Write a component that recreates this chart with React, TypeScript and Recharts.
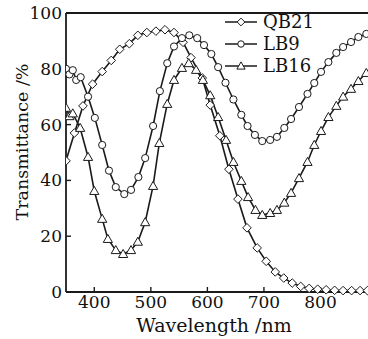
import { LineChart, Line, XAxis, YAxis, ReferenceLine } from "recharts";

// wavelength (nm) / transmittance (%)
const qb21Wl = [350, 365, 380, 397, 414, 430, 445, 462, 477, 493, 509, 525, 541, 557, 571, 591, 605, 622, 638, 654, 670, 688, 704, 720, 735, 750, 765, 780, 795, 810, 825, 840, 855, 870, 883];
const qb21T = [47, 57, 66.7, 74.5, 79, 83, 87, 89, 92, 93, 93.5, 94, 93, 89.5, 84, 76.7, 67, 56, 44, 33.3, 23, 15.8, 11, 7.2, 5, 3.2, 2, 1.3, 1, 0.8, 0.6, 0.5, 0.5, 0.5, 0.5];

const lb9Wl = [350, 356, 362, 368, 376, 389, 401, 414, 426, 438, 453, 465, 478, 490, 504, 516, 529, 541, 555, 568, 582, 594, 607, 619, 632, 646, 660, 671, 684, 697, 711, 723, 736, 748, 762, 777, 789, 801, 814, 828, 840, 854, 867, 881];
const lb9T = [80, 78, 79.5, 76, 77, 70, 62.4, 52.7, 43.5, 37.6, 35.1, 36.6, 41.2, 48, 59.5, 72, 82, 88, 91, 92, 91, 88.5, 85.3, 80.6, 75, 69, 63.5, 59.5, 56.3, 54.1, 54.5, 55.6, 58.8, 62, 66.3, 71, 74.9, 78.9, 82.4, 85.7, 87.8, 89.6, 91.4, 92.5];

const lb16Wl = [350, 356, 362, 375, 389, 400, 414, 424, 438, 451, 465, 477, 490, 504, 515, 529, 541, 555, 567, 580, 592, 605, 619, 633, 646, 660, 672, 685, 697, 711, 723, 736, 748, 762, 777, 789, 801, 814, 828, 840, 854, 867, 881];
const lb16T = [66, 63, 64, 58.8, 48.4, 36.2, 26.2, 19, 15, 13.6, 15, 18, 25, 38, 53.4, 67.4, 76, 80.3, 82, 79.6, 76, 70.5, 62.7, 54.5, 46.6, 39.8, 34, 29.4, 27.6, 28.3, 29.4, 32, 35.5, 40.8, 46.6, 52.7, 57.7, 62.7, 66.7, 70, 72.8, 75.6, 78.5];

const xTicks = [400, 500, 600, 700, 800];
const yTicks = [0, 20, 40, 60, 80, 100];

const series = [
  { name: "QB21", wl: qb21Wl, t: qb21T, shape: "diamond" },
  { name: "LB9", wl: lb9Wl, t: lb9T, shape: "circle" },
  { name: "LB16", wl: lb16Wl, t: lb16T, shape: "triangle" },
];

const INK = "#1a1a1a";
const FONT = "'DejaVu Serif', serif";

function Marker({ cx, cy, shape, s = 1 }: { cx?: number; cy?: number; shape: string; s?: number }) {
  if (cx == null || cy == null) return null;
  const common = { fill: "#fff", stroke: INK, strokeWidth: 1 };
  if (shape === "circle") return <circle cx={cx} cy={cy} r={3.6 * s} {...common} />;
  if (shape === "diamond") {
    const d = 4.3 * s;
    return <polygon points={`${cx},${cy - d} ${cx + d},${cy} ${cx},${cy + d} ${cx - d},${cy}`} {...common} />;
  }
  const d = 4.6 * s;
  return <polygon points={`${cx},${cy - d} ${cx + d},${cy + 0.75 * d} ${cx - d},${cy + 0.75 * d}`} {...common} />;
}

function LegendBox() {
  return (
    <div style={{ position: "absolute", left: 225, top: 11 }}>
      {series.map((s) => (
        <div key={s.name} style={{ display: "flex", alignItems: "center", height: 22 }}>
          <svg width={32} height={14}>
            <line x1={0} y1={7} x2={32} y2={7} stroke={INK} strokeWidth={1.5} />
            <Marker cx={16} cy={7} shape={s.shape} s={0.9} />
          </svg>
          <span style={{ fontFamily: FONT, fontSize: 18, color: "#111", marginLeft: 6, lineHeight: "22px" }}>{s.name}</span>
        </div>
      ))}
    </div>
  );
}

export default function App() {
  const tickStyle = { fontSize: 17, fontFamily: FONT, fill: "#111" };
  return (
    <div style={{ position: "absolute", left: 0, top: 0, width: 368, height: 339 }}>
      <LineChart width={368} height={339} margin={{ top: 13, right: 0, left: 8, bottom: 0 }}>
        <XAxis
          dataKey="x"
          type="number"
          domain={[350, 884]}
          ticks={xTicks}
          allowDataOverflow
          height={47}
          tick={tickStyle}
          tickSize={-5}
          tickMargin={9}
          tickLine={{ stroke: INK, strokeWidth: 1.4 }}
          axisLine={{ stroke: INK, strokeWidth: 1.8 }}
          label={{
            content: () => (
              <text x={214} y={332} textAnchor="middle" style={{ fontFamily: FONT, fontSize: 19, fill: "#111" }}>
                Wavelength /nm
              </text>
            ),
          }}
        />
        <YAxis
          type="number"
          domain={[0, 100]}
          ticks={yTicks}
          width={58}
          tick={tickStyle}
          tickSize={-5}
          tickMargin={9}
          tickLine={{ stroke: INK, strokeWidth: 1.4 }}
          axisLine={{ stroke: INK, strokeWidth: 1.8 }}
          label={{
            content: () => (
              <text
                x={22}
                y={142}
                textAnchor="middle"
                dominantBaseline="central"
                transform="rotate(-90 22 142)"
                style={{ fontFamily: FONT, fontSize: 17.5, fill: "#111" }}
              >
                Transmittance /%
              </text>
            ),
          }}
        />
        <ReferenceLine y={100} stroke={INK} strokeWidth={1.8} />
        {series.map((s) => (
          <Line
            key={s.name}
            name={s.name}
            data={s.wl.map((x, i) => ({ x, y: s.t[i] }))}
            dataKey="y"
            type="linear"
            stroke={INK}
            strokeWidth={1.6}
            isAnimationActive={false}
            dot={(p: any) => <Marker key={`${s.name}-${p.index}`} cx={p.cx} cy={p.cy} shape={s.shape} />}
          />
        ))}
      </LineChart>
      <LegendBox />
    </div>
  );
}
